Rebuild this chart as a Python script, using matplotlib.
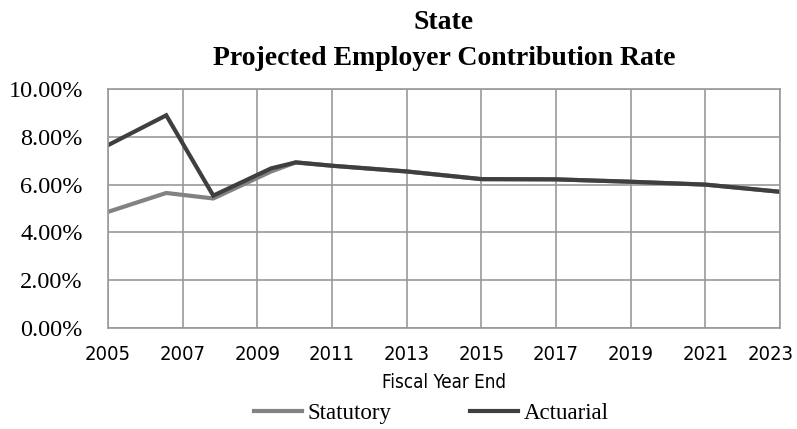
import matplotlib.pyplot as plt
from matplotlib.ticker import FuncFormatter
from matplotlib.transforms import ScaledTranslation
from matplotlib import font_manager

# fiscal year end (decimal years) and contribution rates in percent
years = [2005.0, 2006.56, 2007.82, 2009.37, 2010.03, 2011.0, 2013.0, 2015.0,
         2017.0, 2019.0, 2021.0, 2023.0]
statutory = [4.86, 5.65, 5.42, 6.55, 6.93, 6.79, 6.55, 6.23, 6.22, 6.12, 6.00, 5.70]
actuarial = [7.65, 8.90, 5.54, 6.68, 6.93, 6.79, 6.55, 6.23, 6.22, 6.12, 6.00, 5.70]
x_ticks = list(range(2005, 2024, 2))
y_ticks = [0, 2, 4, 6, 8, 10]

# condensed sans for the year labels if one is around
cond = [f for f in font_manager.fontManager.ttflist
        if 'condensed' in str(f.stretch).lower() or 'Narrow' in f.name
        or 'Condensed' in f.name]
narrow = cond[0].name if cond else 'Liberation Sans'
narrow_stretch = cond[0].stretch if cond else 'normal'
serif = 'Liberation Serif'

fig = plt.figure(figsize=(7.97, 4.29), dpi=100)
ax = fig.add_axes([0.1355, 0.2354, 0.8432, 0.5571])

ax.plot(years, statutory, color='#828282', lw=3.0, label='Statutory',
        solid_joinstyle='miter')
ax.plot(years, actuarial, color='#3f3f3f', lw=3.0, label='Actuarial',
        solid_joinstyle='miter')

ax.set_xlim(2005, 2023)
ax.set_ylim(0, 10)
ax.set_xticks(x_ticks)
ax.set_yticks(y_ticks)
ax.yaxis.set_major_formatter(FuncFormatter(lambda v, p: f'{v:.2f}%'))
ax.tick_params(axis='y', length=0, pad=18)
ax.tick_params(axis='x', length=0, pad=12)
for lab in ax.get_yticklabels():
    lab.set_fontfamily(serif)
    lab.set_fontsize(17.5)
for lab in ax.get_xticklabels():
    lab.set_fontfamily(narrow)
    lab.set_fontstretch(narrow_stretch)
    lab.set_fontsize(14.5 if cond else 13.5)

# keep the last year label inside the figure
last = ax.get_xticklabels()[-1]
last.set_transform(last.get_transform()
                   + ScaledTranslation(-9 / 100, 0, fig.dpi_scale_trans))

ax.grid(True, color='#9a9a9a', lw=1.2)
ax.set_axisbelow(True)
for sp in ax.spines.values():
    sp.set_color('#9a9a9a')
    sp.set_linewidth(1.2)

ax.set_xlabel('Fiscal Year End', fontfamily=narrow, fontstretch=narrow_stretch,
              fontsize=13.5 if cond else 12, labelpad=7)

fig.text(0.557, 0.948, 'State', ha='center', va='center',
         fontfamily=serif, fontweight='bold', fontsize=20)
fig.text(0.557, 0.864, 'Projected Employer Contribution Rate', ha='center',
         va='center', fontfamily=serif, fontweight='bold', fontsize=20)

fig.legend(loc='center', bbox_to_anchor=(0.541, 0.036), ncol=2, frameon=False,
           prop={'family': serif, 'size': 16.5}, handlelength=2.1,
           columnspacing=3.4, handletextpad=0.25)

fig.savefig('out.png', dpi=100, facecolor='white')
